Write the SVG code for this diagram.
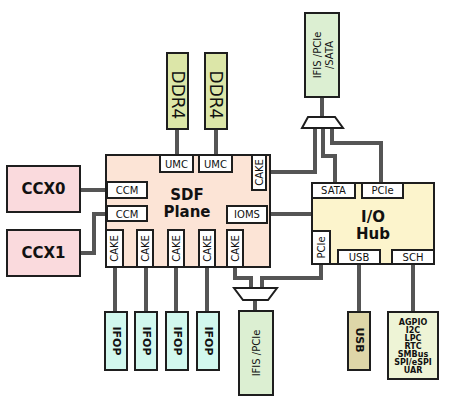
<svg xmlns="http://www.w3.org/2000/svg" width="476" height="405" viewBox="0 0 476 405">
<style>
.b{stroke:#1e1e1e;stroke-width:2}
.w{fill:#ffffff}
.c{fill:none;stroke:#555555;stroke-width:4;stroke-linejoin:miter}
text{font-family:"DejaVu Sans","Liberation Sans",sans-serif;fill:#111;text-anchor:middle;dominant-baseline:central}
.s{font-size:10px}
.bb{font-weight:bold}
</style>
<rect width="476" height="405" fill="#ffffff"/>
<g id="connectors">
<path class="c" d="M177,129V155M216,129V155"/>
<path class="c" d="M80,190H108"/>
<path class="c" d="M80,253H94V214H108"/>
<path class="c" d="M266,214H313"/>
<path class="c" d="M265,172H315V127"/>
<path class="c" d="M322,96V118"/>
<path class="c" d="M323,127V156H335V184"/>
<path class="c" d="M332,127V143H381V184"/>
<path class="c" d="M115,266V313M146,266V313M176,266V313M207,266V313"/>
<path class="c" d="M235,266V278H251V289"/>
<path class="c" d="M321,263V278H262V289"/>
<path class="c" d="M255,299V312"/>
<path class="c" d="M359,263V313M413,263V313"/>
</g>
<g id="mux-top"><polygon class="b w" points="308,117 335,117 343,128 302,128"/></g>
<g id="mux-bottom"><polygon class="b w" points="234,288 277,288 268,300 243,300"/></g>
<g id="ddr4-1"><rect class="b" x="167" y="53" width="21" height="76" fill="#dce6a8"/><text transform="translate(177.5,95) rotate(90)" font-size="17">DDR4</text></g>
<g id="ddr4-2"><rect class="b" x="205" y="53" width="22" height="76" fill="#dce6a8"/><text transform="translate(216,95) rotate(90)" font-size="17">DDR4</text></g>
<g id="ifis-top"><rect class="b" x="305" y="13" width="34" height="84" fill="#dcefd2"/><text transform="translate(322,55) rotate(-90)" font-size="10"><tspan x="0" y="-5">IFIS /PCIe</tspan><tspan x="0" y="7">/SATA</tspan></text></g>
<g id="ccx0"><rect class="b" x="7" y="166" width="73" height="46" fill="#fadadd"/><text x="43.5" y="189" font-size="15" class="bb">CCX0</text></g>
<g id="ccx1"><rect class="b" x="7" y="230" width="73" height="46" fill="#fadadd"/><text x="43.5" y="253" font-size="15" class="bb">CCX1</text></g>
<g id="sdf-plane">
<rect class="b" x="106" y="155" width="164" height="112" fill="#fce4d6"/>
<text x="187" y="195" font-size="15" class="bb">SDF</text>
<text x="187" y="212" font-size="15" class="bb">Plane</text>
<rect class="b w" x="160" y="155" width="33" height="17"/><text class="s" x="176.5" y="164">UMC</text>
<rect class="b w" x="199" y="155" width="33" height="17"/><text class="s" x="215.5" y="164">UMC</text>
<rect class="b w" x="252" y="155" width="14" height="35"/><text class="s" transform="translate(259,172.5) rotate(-90)">CAKE</text>
<rect class="b w" x="107" y="182" width="40" height="16"/><text class="s" x="127" y="190.5">CCM</text>
<rect class="b w" x="107" y="206" width="40" height="15"/><text class="s" x="127" y="214">CCM</text>
<rect class="b w" x="227" y="206" width="40" height="17"/><text class="s" x="247" y="214.5">IOMS</text>
<rect class="b w" x="106" y="230" width="17" height="37"/><text class="s" transform="translate(114.5,248.5) rotate(-90)">CAKE</text>
<rect class="b w" x="137" y="230" width="16" height="37"/><text class="s" transform="translate(145,248.5) rotate(-90)">CAKE</text>
<rect class="b w" x="168" y="230" width="16" height="37"/><text class="s" transform="translate(176,248.5) rotate(-90)">CAKE</text>
<rect class="b w" x="199" y="230" width="16" height="37"/><text class="s" transform="translate(207,248.5) rotate(-90)">CAKE</text>
<rect class="b w" x="227" y="230" width="16" height="37"/><text class="s" transform="translate(235,248.5) rotate(-90)">CAKE</text>
</g>
<g id="io-hub">
<rect class="b" x="312" y="183" width="122" height="81" fill="#fcf4cc"/>
<text x="373" y="217" font-size="15" class="bb">I/O</text>
<text x="373" y="234" font-size="15" class="bb">Hub</text>
<rect class="b w" x="312" y="183" width="43" height="15"/><text class="s" x="333.5" y="190.5">SATA</text>
<rect class="b w" x="362" y="183" width="41" height="15"/><text class="s" x="382.5" y="190.5">PCIe</text>
<rect class="b w" x="312" y="231" width="18" height="33"/><text class="s" transform="translate(321,247.5) rotate(-90)">PCIe</text>
<rect class="b w" x="338" y="250" width="42" height="14"/><text class="s" x="359" y="257">USB</text>
<rect class="b w" x="392" y="250" width="42" height="14"/><text class="s" x="413" y="257">SCH</text>
</g>
<g id="ifop-1"><rect class="b" x="105" y="312" width="22" height="58" fill="#d2f8ee"/><text transform="translate(116,341) rotate(90)" font-size="11" class="bb">IFOP</text></g>
<g id="ifop-2"><rect class="b" x="135" y="312" width="22" height="58" fill="#d2f8ee"/><text transform="translate(146,341) rotate(90)" font-size="11" class="bb">IFOP</text></g>
<g id="ifop-3"><rect class="b" x="166" y="312" width="22" height="58" fill="#d2f8ee"/><text transform="translate(177,341) rotate(90)" font-size="11" class="bb">IFOP</text></g>
<g id="ifop-4"><rect class="b" x="197" y="312" width="22" height="58" fill="#d2f8ee"/><text transform="translate(208,341) rotate(90)" font-size="11" class="bb">IFOP</text></g>
<g id="ifis-bottom"><rect class="b" x="239" y="311" width="34" height="84" fill="#dcefd2"/><text transform="translate(256,353) rotate(-90)" font-size="10">IFIS /PCIe</text></g>
<g id="usb"><rect class="b" x="348" y="312" width="22" height="58" fill="#ded6a8"/><text transform="translate(359,340) rotate(90)" font-size="11" class="bb">USB</text></g>
<g id="sch-io"><rect class="b" x="388" y="312" width="50" height="67" fill="#eef4d6"/>
<text x="413" font-size="8" class="bb"><tspan x="413" y="322">AGPIO</tspan><tspan x="413" y="330">I2C</tspan><tspan x="413" y="338">LPC</tspan><tspan x="413" y="346">RTC</tspan><tspan x="413" y="354">SMBus</tspan><tspan x="413" y="362">SPI/eSPI</tspan><tspan x="413" y="370">UAR</tspan></text></g>
</svg>
